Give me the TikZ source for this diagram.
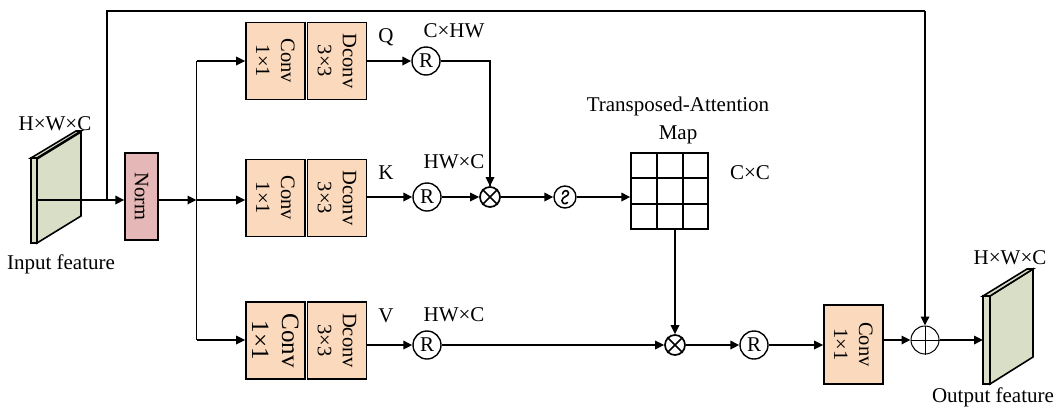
\documentclass[tikz,border=0pt]{standalone}
\usepackage{fontspec}
\setmainfont{Liberation Serif}
\usetikzlibrary{arrows.meta}
\tikzset{
  wire/.style={line width=1.7pt,draw=black,-{Triangle[length=9pt,width=8.5pt]}},
  plainwire/.style={line width=1.7pt,draw=black},
  convbox/.style={draw=black,line width=1.6pt,fill=convfill,inner sep=0pt,minimum width=59pt,minimum height=77pt},
  convtext/.style={rotate=-90,align=center,font=\fontsize{20.5}{25}\selectfont,inner sep=0pt},
  bigtext/.style={rotate=-90,align=center,font=\fontsize{25}{30}\selectfont,inner sep=0pt},
  normbox/.style={draw=black,line width=1.4pt,fill=normfill,inner sep=0pt,minimum width=33pt,minimum height=87pt},
  opcircle/.style={circle,draw=black,line width=1.4pt,fill=white,inner sep=0pt,minimum size=#1},
  lbl/.style={inner sep=0pt,font=\fontsize{21}{28}\selectfont,align=center},
  slabside/.style={draw=black,line width=1.6pt,fill=slabfill,line join=miter},
}
\definecolor{convfill}{HTML}{FBD9BD}
\definecolor{normfill}{HTML}{E5B8B7}
\definecolor{slabfill}{HTML}{D9DFC7}
\begin{document}
\begin{tikzpicture}[x=1pt,y=-1pt]
\useasboundingbox (0,0) rectangle (1062,413);

% input slab
\path[slabside] (37,243) -- (37,159) -- (81,132) -- (81,216) -- cycle;
\path[slabside] (31,158) -- (76,131) -- (81,131) -- (37,158) -- cycle;
\path[slabside] (31,158) rectangle (37,243);
\coordinate (inslab) at (37,200);
\node[lbl] (indim) at (55,124) {H×W×C};
\node[lbl] (inlabel) at (61,264) {Input feature};

% output slab
\path[slabside] (990,384) -- (990,296) -- (1033,269) -- (1033,357) -- cycle;
\path[slabside] (983,296) -- (1027,269) -- (1033,269) -- (990,296) -- cycle;
\path[slabside] (983,296) rectangle (990,384);
\coordinate (outslab) at (983,340);
\node[lbl] (outdim) at (1010,258) {H×W×C};
\node[lbl] (outlabel) at (993,397) {Output feature};

% boxes
\node[normbox] (norm) at (141.5,196.5) {};
\node[convtext] at (norm.center) {Norm};

\node[convbox] (cq) at (275.5,61) {};
\node[convtext] at (cq.center) {Conv\\1×1};
\node[convbox] (dq) at (337,61) {};
\node[convtext] at (dq.center) {Dconv\\3×3};

\node[convbox] (ck) at (275.5,198) {};
\node[convtext] at (ck.center) {Conv\\1×1};
\node[convbox] (dk) at (337,198) {};
\node[convtext] at (dk.center) {Dconv\\3×3};

\node[convbox] (cv) at (275.5,340.5) {};
\node[bigtext] at (cv.center) {Conv\\1×1};
\node[convbox] (dv) at (337,340.5) {};
\node[convtext] at (dv.center) {Dconv\\3×3};

\node[convbox,minimum height=79pt] (cout) at (853.5,344.5) {};
\node[convtext] at (cout.center) {Conv\\1×1};

% operators
\node[opcircle=28pt,lbl,draw] (rq) at (426,61) {R};
\node[opcircle=28pt,lbl,draw] (rk) at (427,197) {R};
\node[opcircle=28pt,lbl,draw] (rv) at (427,345) {R};
\node[opcircle=28pt,lbl,draw] (rout) at (754,345) {R};
\node[opcircle=20pt,line width=1.7pt] (mk) at (490,197) {};
\draw[line width=1.7pt] (mk.north west) -- (mk.south east) (mk.north east) -- (mk.south west);
\node[opcircle=20pt,line width=1.7pt] (mv) at (675,345) {};
\draw[line width=1.7pt] (mv.north west) -- (mv.south east) (mv.north east) -- (mv.south west);
\node[opcircle=22pt] (soft) at (565,197) {};
\draw[line width=1.6pt,line cap=round] (562.5,194) .. controls (563,190) and (568,189.5) .. (568.5,193) .. controls (569,196.5) and (562,196.5) .. (562,200.5) .. controls (562,204) and (566,204.5) .. (567.5,202.5);
\node[opcircle=28pt,line width=1pt] (plus) at (925,340) {};
\draw[line width=1pt] (plus.north) -- (plus.south) (plus.west) -- (plus.east);

% attention map grid
\node[draw=black,line width=1.4pt,fill=white,inner sep=0pt,minimum width=77pt,minimum height=76pt] (grid) at (669.5,191) {};
\draw[line width=1.4pt] (657,153) -- (657,229) (683,153) -- (683,229) (631,178) -- (708,178) (631,204) -- (708,204);

% labels
\node[lbl] (lq) at (386,37) {Q};
\node[lbl] (lk) at (386,173) {K};
\node[lbl] (lv) at (386,316) {V};
\node[lbl] (dimq) at (454,31) {C×HW};
\node[lbl] (dimk) at (454,162) {HW×C};
\node[lbl] (dimv) at (454,315) {HW×C};
\node[lbl] (title) at (678,120) {Transposed-Attention\\Map};
\node[lbl] (dimg) at (750,173) {C×C};

% junctions
\coordinate (j1) at (107,200);
\coordinate (j2) at (196.5,200);
\coordinate (topl) at (107,11);
\coordinate (topr) at (925,11);
\coordinate (bq) at (196.5,61);
\coordinate (bv) at (196.5,340);
\coordinate (bk) at (196.5,200);

% connectors
\draw[wire] (inslab) -- (norm.west |- inslab);
\draw[plainwire] (j1) -- (topl) -- (topr);
\draw[wire] (topr) -- (plus.north);
\draw[wire] (norm.east |- j2) -- (j2);
\draw[plainwire] (bq) -- (bv);
\draw[wire] (bq) -- (cq.west |- bq);
\draw[wire] (bk) -- (ck.west |- bk);
\draw[wire] (bv) -- (cv.west |- bv);
\draw[wire] (dq.east |- rq) -- (rq.west);
\draw[wire] (dk.east |- rk) -- (rk.west);
\draw[wire] (dv.east |- rv) -- (rv.west);
\draw[plainwire] (rq.east) -| (mk.north);
\draw[wire] (mk.north |- rq) -- (mk.north);
\draw[wire] (rk.east) -- (mk.west);
\draw[wire] (mk.east) -- (soft.west);
\draw[wire] (soft.east) -- (grid.west |- soft);
\draw[wire] (grid.south -| mv) -- (mv.north);
\draw[wire] (rv.east) -- (mv.west);
\draw[wire] (mv.east) -- (rout.west);
\draw[wire] (rout.east) -- (cout.west |- rout);
\draw[wire] (cout.east |- plus) -- (plus.west);
\draw[wire] (plus.east) -- (outslab);
\end{tikzpicture}
\end{document}
